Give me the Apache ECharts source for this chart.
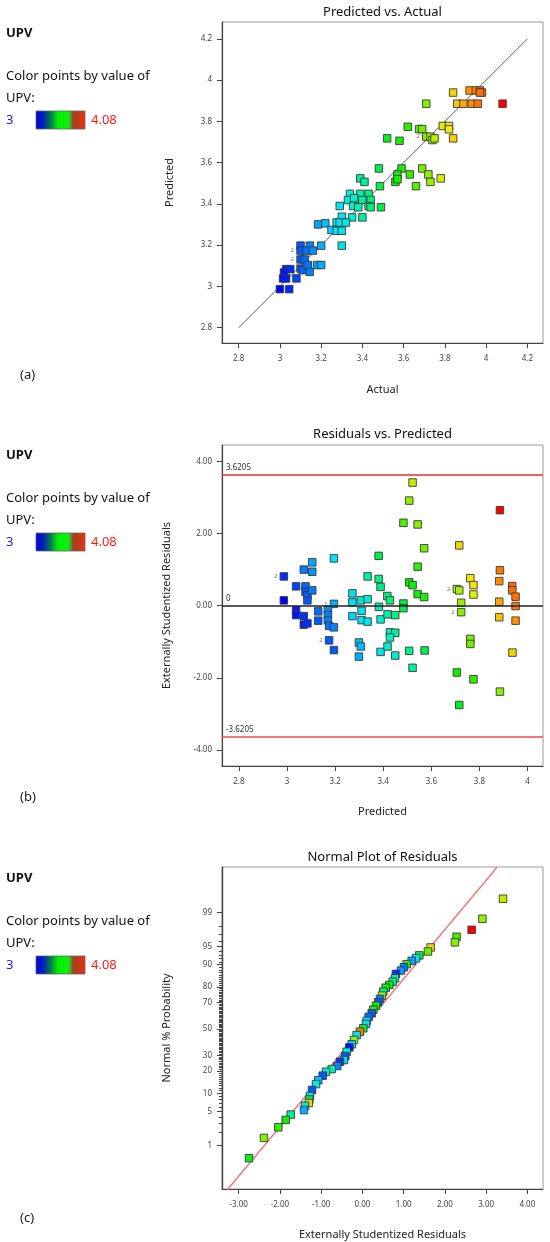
<!DOCTYPE html>
<html><head><meta charset="utf-8">
<script src="https://cdn.jsdelivr.net/npm/echarts@6/dist/echarts.min.js"></script>
<style>html,body{margin:0;padding:0;background:#fff}#c{width:550px;height:1242px}</style>
</head><body><div id="c"></div>
<script>
// ---------- Panel (a): Predicted vs. Actual ----------
const actualA = [3.84,3.92,3.95,3.97,3.98,3.97,3.71,3.86,3.89,3.93,3.96,4.08,3.62,3.675,3.69,3.79,3.82,3.82,3.71,3.73,3.74,3.75,3.52,3.58,3.84,
  3.48,3.59,3.69,3.57,3.63,3.72,3.56,3.57,3.73,3.78,3.39,3.41,3.485,3.66,
  3.34,3.39,3.43,3.33,3.36,3.40,3.44,3.29,3.355,3.38,3.43,3.44,3.49,3.30,3.35,3.40,
  3.185,3.22,3.275,3.29,3.32,3.25,3.275,3.30,3.20,3.30,3.10,3.145,3.10,3.13,3.16,3.10,3.12,
  3.10,3.11,3.135,3.18,3.20,3.145,3.03,3.05,3.02,3.015,3.03,3.08,3.00,3.045];
const predictedA = [3.94,3.95,3.95,3.95,3.94,3.94,3.886,3.886,3.886,3.886,3.886,3.886,3.774,3.763,3.763,3.778,3.778,3.762,3.726,3.726,3.71,3.718,3.718,3.706,3.718,
  3.572,3.572,3.572,3.543,3.543,3.543,3.507,3.52,3.507,3.524,3.524,3.507,3.486,3.486,
  3.449,3.449,3.449,3.419,3.428,3.419,3.419,3.39,3.39,3.384,3.39,3.384,3.384,3.338,3.335,3.335,
  3.301,3.306,3.31,3.31,3.31,3.274,3.27,3.27,3.198,3.198,3.198,3.198,3.174,3.174,3.174,3.131,3.131,
  3.087,3.079,3.104,3.104,3.104,3.071,3.084,3.084,3.068,3.039,3.039,3.039,2.987,2.987];
const diagA = [2.8, 4.2];
const dupA = [[3.71,3.726],[3.10,3.174],[3.10,3.131]];
const ticksA = [2.8,3,3.2,3.4,3.6,3.8,4,4.2];

// ---------- Panel (b): Residuals vs. Predicted ----------
const predictedB = [3.522,3.508,3.885,3.484,3.543,3.57,3.716,3.195,3.381,3.105,3.543,3.07,3.105,3.885,2.987,3.335,3.381,3.762,3.882,3.508,
  3.522,3.389,3.775,3.038,3.077,3.077,3.085,3.105,3.085,3.936,3.936,3.95,3.706,3.716,3.543,3.57,3.272,3.417,3.428,3.775,
  2.987,3.307,3.335,3.272,3.195,3.484,3.724,3.882,3.95,3.038,3.038,3.07,3.07,3.085,3.13,3.13,3.17,3.17,3.17,3.175,
  3.195,3.175,3.195,3.272,3.31,3.31,3.335,3.299,3.307,3.299,3.382,3.389,3.418,3.45,3.428,3.45,3.428,3.389,3.418,3.45,
  3.508,3.522,3.572,3.484,3.724,3.762,3.762,3.706,3.775,3.716,3.882,3.95,3.937,3.885];
const residualB = [3.41,2.91,2.645,2.295,2.25,1.59,1.67,1.31,1.38,1.2,1.08,1.0,0.94,0.98,0.81,0.81,0.74,0.76,0.68,0.645,
  0.57,0.52,0.57,0.535,0.535,0.387,0.286,0.424,0.147,0.544,0.424,0.249,0.46,0.424,0.32,0.24,0.34,0.267,0.147,0.31,
  0.147,0.147,0.18,0.09,0.05,0.06,0.08,0.11,-0.01,-0.12,-0.26,-0.29,-0.525,-0.49,-0.157,-0.415,-0.12,-0.26,-0.4,-0.56,
  -0.6,-0.96,-1.23,-0.29,-0.14,-0.4,-0.44,-1.02,-1.13,-1.41,-0.03,-0.38,-0.24,-0.26,-0.74,-0.75,-0.88,-1.28,-1.13,-1.38,
  -1.25,-1.72,-1.24,-0.07,-0.18,-0.92,-1.06,-1.85,-2.04,-2.75,-0.32,-0.415,-1.3,-2.38];
const upvB = [3.77,3.72,4.08,3.65,3.71,3.69,3.84,3.29,3.48,3.19,3.62,3.14,3.17,3.96,3.05,3.39,3.43,3.82,3.93,3.55,
  3.56,3.43,3.82,3.08,3.12,3.10,3.11,3.14,3.10,3.98,3.97,3.97,3.74,3.75,3.57,3.59,3.30,3.44,3.44,3.80,
  3.00,3.32,3.35,3.28,3.20,3.49,3.73,3.89,3.95,3.03,3.02,3.05,3.03,3.05,3.12,3.10,3.16,3.15,3.14,3.13,
  3.15,3.10,3.10,3.25,3.30,3.28,3.30,3.22,3.22,3.20,3.38,3.36,3.40,3.43,3.37,3.40,3.36,3.30,3.34,3.35,
  3.42,3.40,3.48,3.48,3.71,3.70,3.69,3.57,3.63,3.52,3.86,3.92,3.84,3.71];
const limitB = 3.6205;
const dupB = [[2.987,0.81],[3.706,0.46],[3.724,-0.18],[3.175,-0.96],[3.195,0.04]];
const ticksBx = [2.8,3,3.2,3.4,3.6,3.8,4];
const ticksBy = [-4,-2,0,2,4];

// ---------- Panel (c): Normal Plot of Residuals ----------
const residualC = [3.41,2.91,2.65,2.285,2.245,1.655,1.59,1.38,1.30,1.195,1.074,1.008,0.935,0.814,0.79,0.734,0.652,0.565,0.507,0.475,
  0.427,0.385,0.33,0.265,0.225,0.152,0.104,0.087,0.022,-0.059,-0.14,-0.204,-0.26,-0.318,-0.381,-0.415,-0.447,-0.544,-0.61,-0.745,
  -0.883,-0.963,-1.07,-1.125,-1.222,-1.271,-1.288,-1.30,-1.392,-1.416,-1.739,-1.86,-2.04,-2.387,-2.75];
const probabilityC = [99.53,98.6,97.6,96.7,95.8,94.8,93.9,92.9,92.1,91.3,90.2,89.1,87.8,86.4,84.4,82.7,81.0,79.5,77.2,74.7,
  72.6,70.3,67.9,65.0,62.3,59.5,56.4,54.0,50.6,47.9,45.2,41.3,38.0,35.7,32.5,29.5,26.8,25.7,23.0,21.2,
  19.7,17.6,15.4,13.6,11.2,9.1,8.0,7.0,6.3,5.3,4.4,3.5,2.5,1.5,0.5];
const upvC = [3.77,3.72,4.08,3.65,3.71,3.84,3.69,3.48,3.29,3.19,3.62,3.14,3.17,3.05,3.39,3.43,3.55,3.56,3.43,3.75,
  3.14,3.10,3.57,3.59,3.11,3.12,3.32,3.28,3.49,3.95,3.30,3.71,3.25,3.02,3.36,3.10,3.30,3.06,3.15,3.37,
  3.36,3.10,3.22,3.34,3.10,3.30,3.48,3.84,3.35,3.20,3.40,3.57,3.63,3.71,3.52];
const refLineX = [-3.28, 3.26];
const refLineY = [-3.21, 3.22];
const ticksCx = [-3,-2,-1,0,1,2,3,4];
const ticksCy = [1,5,10,20,30,50,70,80,90,95,99];
const minorCy = []; for (let p = 1; p <= 99; p++) minorCy.push(p);

// ---------- helpers ----------
function probit(p){
  const a=[-3.969683028665376e+01,2.209460984245205e+02,-2.759285104469687e+02,1.383577518672690e+02,-3.066479806614716e+01,2.506628277459239e+00];
  const b=[-5.447609879822406e+01,1.615858368580409e+02,-1.556989798598866e+02,6.680131188771972e+01,-1.328068155288572e+01];
  const c=[-7.784894002430293e-03,-3.223964580411365e-01,-2.400758277161838e+00,-2.549732539343734e+00,4.374664141464968e+00,2.938163982698783e+00];
  const d=[7.784695709041462e-03,3.224671290700398e-01,2.445134137142996e+00,3.754408661907416e+00];
  const pl=0.02425, ph=1-pl; let q,r;
  if(p<pl){q=Math.sqrt(-2*Math.log(p));return (((((c[0]*q+c[1])*q+c[2])*q+c[3])*q+c[4])*q+c[5])/((((d[0]*q+d[1])*q+d[2])*q+d[3])*q+1);}
  if(p>ph){q=Math.sqrt(-2*Math.log(1-p));return -(((((c[0]*q+c[1])*q+c[2])*q+c[3])*q+c[4])*q+c[5])/((((d[0]*q+d[1])*q+d[2])*q+d[3])*q+1);}
  q=p-0.5;r=q*q;return (((((a[0]*r+a[1])*r+a[2])*r+a[3])*r+a[4])*r+a[5])*q/(((((b[0]*r+b[1])*r+b[2])*r+b[3])*r+b[4])*r+1);
}
const zOf = pct => probit(pct/100);
const FONT = '"Noto Sans", "Open Sans", sans-serif';
// colour ramp for UPV 3.00 -> 4.08 (evenly spaced stops)
const upvColors = ['#0000ff','#0050ff','#00a0ff','#00e0ff','#00f0c8','#00f070','#00f000','#30f000','#90f000','#f0f000','#ffa000','#ff6000','#ff0000'];

function axis(o){
  return {
    type:'value', gridIndex:o.g, min:o.min, max:o.max, position:o.pos,
    name:o.name, nameLocation:'middle', nameGap:o.gap,
    nameTextStyle:{fontSize:11, color:'#222', fontFamily:FONT},
    axisLine:{show:true, onZero:false, lineStyle:{color:'#444', width:1.2}},
    axisTick:{show:true, customValues:o.tv, length:o.tl||5, lineStyle:{color:'#444', width:1}},
    axisLabel:{show:o.lv!==null, customValues:o.lv||[], formatter:o.fmt, fontSize:8, color:'#444', margin:o.m||10, fontFamily:FONT},
    splitLine:{show:false}, minorTick:{show:false}
  };
}
const f1 = v => String(Math.round(v*10)/10);
const f2 = v => (Math.round(v*100)/100).toFixed(2);
const fc = v => { let best=ticksCy[0], bd=1e9; ticksCy.forEach(p=>{const d=Math.abs(zOf(p)-v); if(d<bd){bd=d;best=p;}}); return String(best); };

const grids = [
  {left:222, top:22, width:321, height:321},
  {left:222, top:445, width:321, height:321},
  {left:222, top:867, width:321, height:322}
].map(g => Object.assign(g, {show:true, borderColor:'#9a9a9a', borderWidth:1, containLabel:false}));

const xAxes = [
  axis({g:0, pos:'bottom', min:2.719, max:4.276, name:'Actual', gap:41, tv:ticksA, lv:ticksA, fmt:f1, m:12}),
  axis({g:1, pos:'bottom', min:2.73, max:4.064, name:'Predicted', gap:40, tv:ticksBx, lv:ticksBx, fmt:f1, m:12}),
  axis({g:2, pos:'bottom', min:-3.405, max:4.38, name:'Externally Studentized Residuals', gap:40, tv:ticksCx, lv:ticksCx, fmt:f2, m:12})
];
const yAxes = [
  axis({g:0, pos:'left', min:2.726, max:4.282, name:'Predicted', gap:47, tv:ticksA, lv:ticksA, fmt:f1}),
  axis({g:1, pos:'left', min:-4.44, max:4.45, name:'Externally Studentized Residuals', gap:50, tv:ticksBy, lv:ticksBy, fmt:f2}),
  axis({g:2, pos:'left', min:-3.19, max:3.23, name:'Normal % Probability', gap:50, tv:ticksCy.map(zOf), lv:ticksCy.map(zOf), fmt:fc}),
  axis({g:2, pos:'left', min:-3.19, max:3.23, name:'', gap:0, tv:minorCy.map(zOf), lv:null, tl:3})
];
yAxes[3].offset = 0;

const sq = {type:'scatter', symbol:'rect', symbolSize:7.5, itemStyle:{borderColor:'#3a3a3a', borderWidth:0.9, opacity:1}, z:3};
const dupStyle = {type:'scatter', symbolSize:1, itemStyle:{color:'rgba(0,0,0,0)'}, silent:true,
  label:{show:true, formatter:'2', position:'left', distance:6, fontSize:6, color:'#555', fontFamily:FONT}, z:4};

const series = [
  Object.assign({}, sq, {xAxisIndex:0, yAxisIndex:0, data: actualA.map((a,i)=>[a, predictedA[i]])}),
  {type:'line', xAxisIndex:0, yAxisIndex:0, data: diagA.map(v=>[v,v]), symbol:'none', lineStyle:{color:'#333', width:0.8}, z:2, silent:true},
  Object.assign({}, dupStyle, {xAxisIndex:0, yAxisIndex:0, data: dupA}),
  Object.assign({}, sq, {xAxisIndex:1, yAxisIndex:1, data: predictedB.map((p,i)=>[p, residualB[i], upvB[i]])}),
  {type:'line', xAxisIndex:1, yAxisIndex:1, data:[], silent:true,
    markLine:{silent:true, symbol:'none', animation:false, data:[
      {yAxis:limitB, lineStyle:{color:'#ee2a2a', width:1.5, type:'solid'}, label:{formatter:String(limitB), position:'insideStartTop', fontSize:8, color:'#333', fontFamily:FONT, distance:[4,3]}},
      {yAxis:0, lineStyle:{color:'#222', width:1.5, type:'solid'}, label:{formatter:'0', position:'insideStartTop', fontSize:8, color:'#333', fontFamily:FONT, distance:[4,3]}},
      {yAxis:-limitB, lineStyle:{color:'#f04a4a', width:1.5, type:'solid'}, label:{formatter:String(-limitB), position:'insideStartTop', fontSize:8, color:'#333', fontFamily:FONT, distance:[4,3]}}
    ]}},
  Object.assign({}, dupStyle, {xAxisIndex:1, yAxisIndex:1, data: dupB}),
  Object.assign({}, sq, {xAxisIndex:2, yAxisIndex:2, data: residualC.map((r,i)=>[r, zOf(probabilityC[i]), upvC[i]])}),
  {type:'line', xAxisIndex:2, yAxisIndex:2, data: refLineX.map((x,i)=>[x, refLineY[i]]), symbol:'none', lineStyle:{color:'#f07878', width:1.5}, z:2, silent:true}
];

const vm = (dim, si) => ({type:'continuous', show:false, min:3.0, max:4.08, dimension:dim, seriesIndex:si, inRange:{color:upvColors}, outOfRange:{color:['#0000ff']}});

// left-hand legend texts and panel titles
const graphics = [];
const titles = ['Predicted vs. Actual','Residuals vs. Predicted','Normal Plot of Residuals'];
const tags = ['(a)','(b)','(c)'];
const offs = [0, 422, 845];
const titleY = [12, 434, 857];
offs.forEach((o, k) => {
  const t = (text, x, y, extra) => graphics.push({type:'text', x, y, style:Object.assign({text, fill:'#111', font:'13px '+FONT, verticalAlign:'middle', align:'left'}, extra||{})});
  t('UPV', 6, 33+o, {font:'bold 13px '+FONT});
  t('Color points by value of', 6, 76+o);
  t('UPV:', 6, 98+o);
  t('3', 6, 120+o, {fill:'#2020ff'});
  t('4.08', 91, 120+o, {fill:'#ff1a1a'});
  graphics.push({type:'rect', shape:{x:36, y:111+o, width:49, height:18}, style:{
    fill:new echarts.graphic.LinearGradient(0,0,1,0,[
      {offset:0, color:'#0000e6'},{offset:0.15, color:'#0020b8'},{offset:0.3, color:'#007a50'},
      {offset:0.45, color:'#00f000'},{offset:0.64, color:'#10f010'},{offset:0.7, color:'#40b030'},
      {offset:0.75, color:'#a04020'},{offset:1, color:'#f03010'}]), stroke:'#666', lineWidth:0.8}});
  t(tags[k], 20, 375+o + (k===2?-2:0), {font:'13px '+FONT, fill:'#222'});
  t(titles[k], 382.5, titleY[k], {font:'13px '+FONT, align:'center', fill:'#111'});
});

const chart = echarts.init(document.getElementById('c'), null, {renderer:'canvas'});
chart.setOption({
  animation:false,
  backgroundColor:'#fff',
  grid: grids,
  xAxis: xAxes,
  yAxis: yAxes.map((y,i)=>Object.assign(y, {gridIndex: i===3 ? 2 : i})),
  visualMap:[vm(0,0), vm(2,3), vm(2,6)],
  series,
  graphic: graphics
});
</script>
</body></html>
